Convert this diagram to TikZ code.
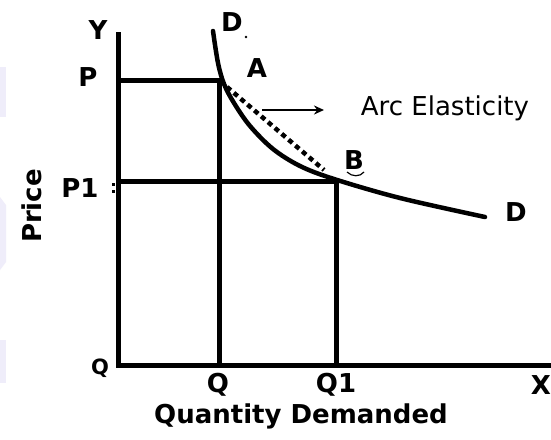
\documentclass[tikz,border=0pt]{standalone}
\usepackage{fontspec}
\setmainfont{DejaVu Sans}
\usetikzlibrary{arrows.meta}
\definecolor{patch}{RGB}{239,237,250}
\begin{document}
\begin{tikzpicture}[x=1pt,y=-1pt,
  lbl/.style={font=\fontsize{26}{26}\selectfont\bfseries, inner sep=0pt, anchor=center},
  thin lbl/.style={font=\fontsize{26}{26}\selectfont, inner sep=0pt, anchor=center},
  axisline/.style={line width=5pt},
  guide/.style={line width=5pt},
  curve/.style={line width=4.5pt, line cap=round},
  arc dash/.style={line width=4.5pt, dash pattern=on 5pt off 4pt},
  pointer/.style={line width=2pt, -{Stealth[length=10pt,width=9pt]}}]
\useasboundingbox (0,0) rectangle (551,439);
\fill[white] (0,0) rectangle (551,439);
% faint background patches at left edge
\fill[patch] (0,67) rectangle (6,117);
\fill[patch] (0,197) -- (6,205) -- (6,262) -- (0,270) -- cycle;
\fill[patch] (0,340) rectangle (6,383);

% coordinates
\coordinate (O) at (118,365);
\coordinate (Ytop) at (118,32);
\coordinate (Xend) at (551,365);
\coordinate (A) at (219,80);
\coordinate (B) at (336,181);
\coordinate (PA) at (118,80);
\coordinate (P1B) at (118,181);
\coordinate (QA) at (219,365);
\coordinate (Q1B) at (336,365);
\coordinate (dashS) at (227,87);
\coordinate (dashE) at (324,170);
\coordinate (arrS) at (262,110);
\coordinate (arrE) at (324,110);

% axes
\draw[axisline] (Ytop) -- (O) -- (Xend);
% guides
\draw[guide] (PA) -- (A) -- (QA);
\draw[guide] (P1B) -- (B) -- (Q1B);
% demand curve
\draw[curve] plot[smooth, tension=0.55] coordinates {(213,31) (218,63) (224,84) (234,103) (250,126) (273,149) (300,166) (334,179) (400,198) (485,217)};
% arc (chord)
\draw[arc dash] (dashS) -- (dashE);
% pointer arrow
\draw[pointer] (arrS) -- (arrE);

% small marks
\fill (246,37) circle (1.3);
\draw[line width=1.2pt] (347,172) .. controls (352,177) and (360,177) .. (364,172);
\fill (112,183) rectangle (115,186);
\fill (112,190) rectangle (115,193);

% labels
\node[lbl] (lY) at (98,30) {Y};
\node[lbl] (lP) at (88,77) {P};
\node[lbl] (lP1) at (80,188) {P1};
\node[lbl, font=\fontsize{21}{21}\selectfont\bfseries] (lO) at (100,368) {Q};
\node[lbl] (lQ) at (218,385) {Q};
\node[lbl] (lQ1) at (336,385) {Q1};
\node[lbl] (lX) at (541,385) {X};
\node[lbl] (lQD) at (301,416) {Quantity Demanded};
\node[lbl, rotate=90] (lPrice) at (32,206) {Price};
\node[lbl] (lDtop) at (232,22) {D};
\node[lbl] (lA) at (257,68) {A};
\node[lbl] (lB) at (354,160) {B};
\node[lbl] (lD) at (516,212) {D};
\node[thin lbl] (lArc) at (445,108) {Arc Elasticity};
\end{tikzpicture}
\end{document}
